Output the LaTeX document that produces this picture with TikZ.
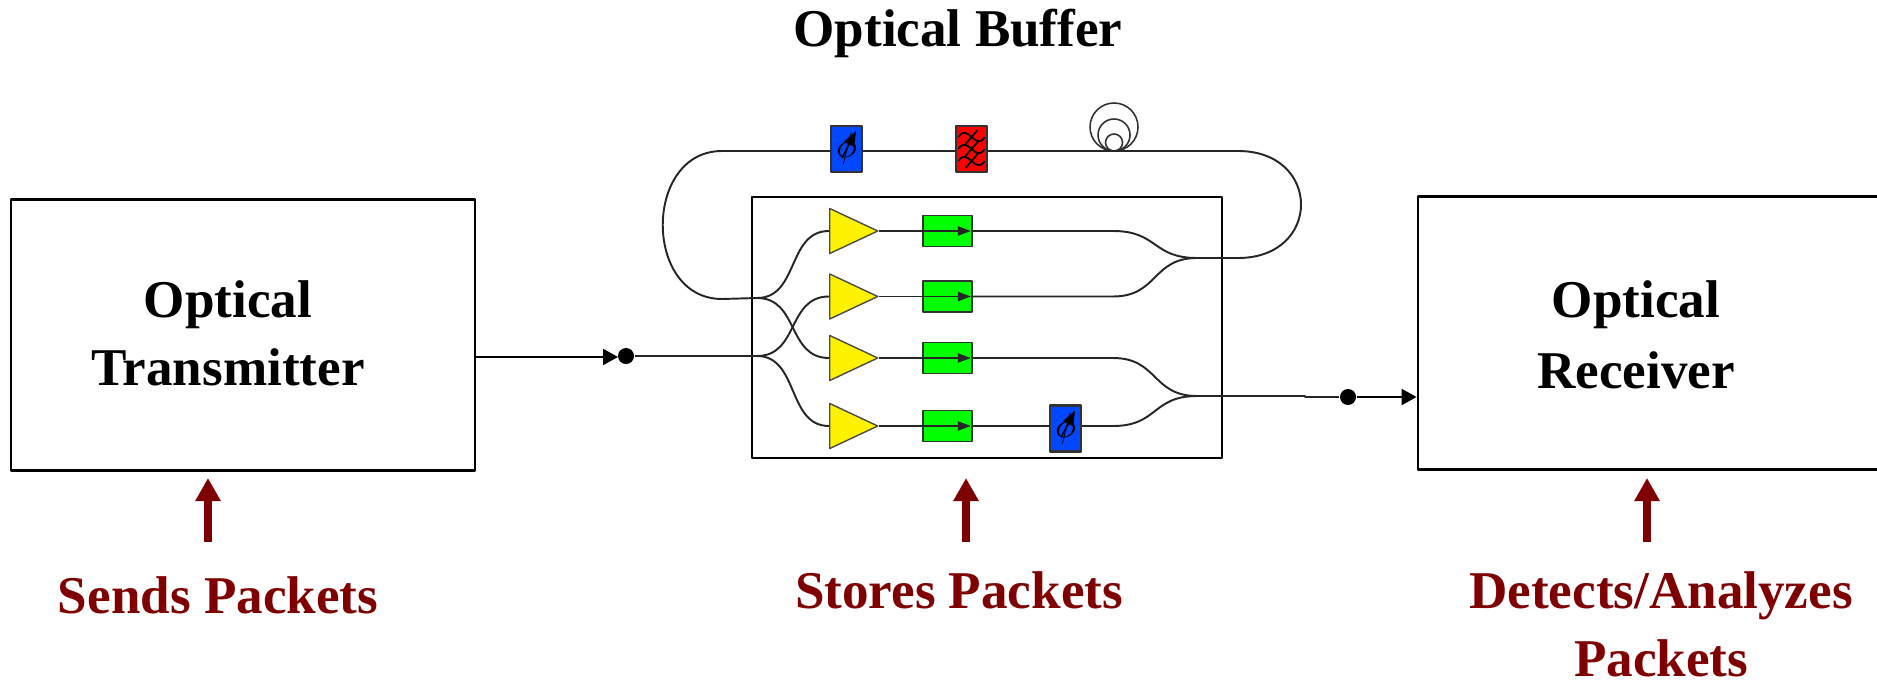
\documentclass[tikz,border=0pt]{standalone}
\usepackage{fontspec}
\setmainfont{Liberation Serif}
\usetikzlibrary{shapes.geometric,arrows.meta}
\definecolor{darkred}{HTML}{7F0000}
\definecolor{phaseblue}{HTML}{0047FF}
\begin{document}
\begin{tikzpicture}[x=.01cm,y=-.01cm,line join=round,>={Triangle[length=.15cm,width=.16cm]}]
	\tikzset{main box/.style={draw,line width=.7pt,inner sep=0},
		big label/.style={font=\bfseries\fontsize{15.1}{19.4}\selectfont,align=center,inner sep=0},
		red label/.style={big label,text=darkred},
		fiber/.style={line width=.55pt,draw=black!85},
		amp/.style={draw=black!70,fill=yellow,isosceles triangle,isosceles triangle apex angle=50,isosceles triangle stretches,minimum width=.45cm,minimum height=.48cm,inner sep=0,anchor=lower side},
		gate/.style={draw=black!80,line width=.5pt,fill=green,minimum width=.49cm,minimum height=.31cm,inner sep=0},
		phase/.style={draw=black!80,line width=.6pt,fill=phaseblue,minimum width=.31cm,minimum height=.46cm,inner sep=0},
		filt/.style={draw=black!80,line width=.6pt,fill=red,minimum width=.31cm,minimum height=.46cm,inner sep=0},
		dot/.style={circle,fill=black,minimum size=.16cm,inner sep=0},
		redarrow/.style={-{Triangle[length=.23cm,width=.24cm]},line width=.08cm,draw=darkred}}
	\useasboundingbox (0,0) rectangle (1877,679);
	\begin{scope}
	\clip (0,0) rectangle (1877,679);
	% boxes
	\node[main box,minimum width=4.64cm,minimum height=2.71cm] (tx) at (243,335) {};
	\node[main box,minimum width=5.02cm,minimum height=2.73cm] (rx) at (1669,333) {};
	\node[main box,minimum width=4.7cm,minimum height=2.61cm] (buffer) at (987,327.5) {};
	\end{scope}
	% texts
	\node[big label] (title) at (958,33) {Optical Buffer};
	\node[big label] (txlabel) at (228,333) {Optical\\Transmitter};
	\node[big label] (rxlabel) at (1636,335) {Optical\\[.03cm]Receiver};
	\node[red label] (sends) at (218,595) {Sends Packets};
	\node[red label] (stores) at (959,590) {Stores Packets};
	\node[red label] (detects) at (1661,624) {Detects/Analyzes\\Packets};
	% red arrows
	\coordinate (sendsbase) at (208,542);
	\coordinate (storesbase) at (966,542);
	\coordinate (detectsbase) at (1647,542);
	\draw[redarrow] (sendsbase) -- (208,478);
	\draw[redarrow] (storesbase) -- (966,478);
	\draw[redarrow] (detectsbase) -- (1647,478);
	% amplifiers and gates
	\foreach \n/\y in {1/231,2/296.5,3/358,4/426}{
		\node[amp] (amp\n) at (829,\y) {};
		\node[gate] (gate\n) at (947.5,\y) {};
		\draw[fiber,-{Triangle[length=.13cm,width=.09cm]}] (gate\n.west) -- ([xshift=-.02cm]gate\n.east);
		\draw[fiber] (amp\n.apex) -- (gate\n.west);
	}
	% top line parts
	\node[phase] (ps1) at (846.5,149) {};
	\node[filt] (bp) at (971.5,149) {};
	\node[phase] (ps2) at (1065.5,428.5) {};
	\foreach \p in {ps1,ps2}{
		\node[inner sep=0] (\p sym) at (\p) {$\phi$};
		\draw[-{Triangle[length=.15cm,width=.11cm]},line width=.45pt] ([shift={(-4.5,9)}]\p.center) -- ([shift={(9.5,-18)}]\p.center);
	}
	\foreach \d in {-12,0,12}{
		\draw[line width=.5pt] ([shift={(-13,\d)}]bp.center) .. controls +(9,-15) and +(-9,15) .. ([shift={(13,\d)}]bp.center);
		\draw[line width=.5pt] ([shift={(-6,\d+7)}]bp.center) -- ([shift={(6,\d-7)}]bp.center);
	}
	\foreach \r in {24,16,8.5}{
		\draw[line width=.45pt,black!80] (1114,151-\r) circle [radius=\r];
	}
	% junctions
	\coordinate (loopin) at (722,299);
	\coordinate (split1) at (757,298);
	\coordinate (split2) at (757,356);
	\coordinate (loopleft) at (722,151);
	\coordinate (loopright) at (1238,151);
	\coordinate (loopout) at (1238,258);
	\coordinate (combine1) at (1197,258);
	\coordinate (combine2) at (1197,396);
	\coordinate (outbend) at (1305,396);
	\coordinate (stx) at (1113,0);
	\node[dot] (indot) at (626,356) {};
	\node[dot] (outdot) at (1348,397) {};
	% input and output
	\draw[->,line width=.6pt] (tx.east |- 0,357) -- (618,357);
	\draw[->,line width=.6pt] (outdot) -- (rx.west |- outdot);
	\draw[fiber] (indot) -- (split2);
	\draw[fiber] (loopin) -- (split1);
	\draw[fiber] (combine2) -- (outbend) -- (outbend |- outdot) -- (outdot);
	\draw[fiber] (combine1) -- (loopout);
	% loop
	\draw[fiber] (loopleft) -- (ps1.west |- loopleft) (ps1.east |- loopleft) -- (bp.west |- loopleft);
	\draw[fiber] (bp.east |- loopleft) -- (loopright);
	\draw[fiber] (loopleft) .. controls +(-79,0) and +(-79,0) .. (loopin);
	\draw[fiber] (loopright) .. controls +(84,0) and +(84,0) .. (loopout);
	% couplers
	\foreach \a/\b in {split1/amp1,split1/amp3,split2/amp2,split2/amp4}
		\draw[fiber] (\a) .. controls +(42,0) and +(-42,0) .. (\b.lower side);
	\foreach \g/\c in {gate1/combine1,gate2/combine1,gate3/combine2}
		\draw[fiber] (\g.east) -- (\g.east -| stx) .. controls +(45,0) and +(-45,0) .. (\c);
	\draw[fiber] (gate4.east) -- (ps2.west |- gate4.east);
	\draw[fiber] (ps2.east |- gate4.east) -- (gate4.east -| stx) .. controls +(45,0) and +(-45,0) .. (combine2);
\end{tikzpicture}
\end{document}
